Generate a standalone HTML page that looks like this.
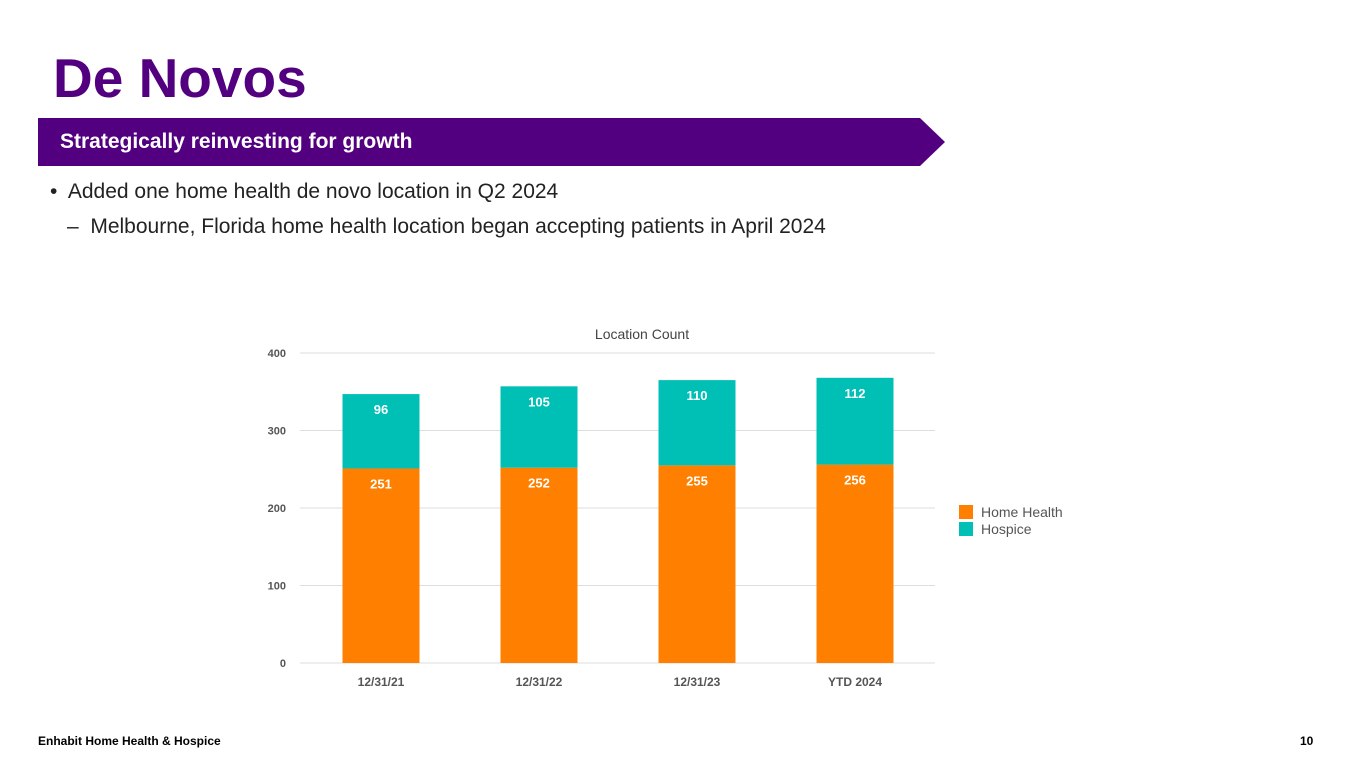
<!DOCTYPE html>
<html><head><meta charset="utf-8"><style>
body{margin:0;width:1365px;height:768px;background:#fff;position:relative;overflow:hidden;font-family:"Liberation Sans",Arial,sans-serif}
.abs{position:absolute}
</style></head><body>
<div class="abs" style="left:53px;top:46px;font-size:55px;font-weight:bold;color:#520080;line-height:64px">De Novos</div>
<svg class="abs" style="left:0;top:0" width="1365" height="768">
<polygon points="38,118 920,118 945,142 920,166 38,166" fill="#520080"/>
</svg>
<div class="abs" style="left:60px;top:130px;font-size:21px;font-weight:bold;color:#fff">Strategically reinvesting for growth</div>
<div class="abs" style="left:50px;top:180px;font-size:21px;color:#222">•&nbsp; Added one home health de novo location in Q2 2024</div>
<div class="abs" style="left:67px;top:215px;font-size:21px;color:#222">–&nbsp; Melbourne, Florida home health location began accepting patients in April 2024</div>
<svg class="abs" style="left:0;top:0" width="1365" height="768" id="chart"></svg>
<div class="abs" style="left:38px;top:734px;font-size:12px;font-weight:bold;color:#000">Enhabit Home Health &amp; Hospice</div>
<div class="abs" style="left:1300px;top:734px;font-size:12px;font-weight:bold;color:#000">10</div>
<script>
const categories=["12/31/21","12/31/22","12/31/23","YTD 2024"];
const homeHealth=[251,252,255,256];
const hospice=[96,105,110,112];
const yTicks=[0,100,200,300,400];
const NS="http://www.w3.org/2000/svg";
const svg=document.getElementById('chart');
const y=v=>663-v*310/400;
const x=i=>381+i*158;
function mk(t,a,txt){const e=document.createElementNS(NS,t);for(const k in a)e.setAttribute(k,a[k]);if(txt!=null)e.textContent=txt;svg.appendChild(e);return e;}
let t=mk('text',{x:642,y:339,'text-anchor':'middle','font-size':14,fill:'#444'},'Location Count');


yTicks.forEach(v=>{
 const l=mk('line',{x1:300,x2:935,y1:y(v),y2:y(v),stroke:'#ddd','stroke-width':1});
 
 
 const tx=mk('text',{x:286,y:y(v)+4,'text-anchor':'end','font-size':11,'font-weight':'bold',fill:'#555'},v);
 
 
});
categories.forEach((c,i)=>{
 const hh=homeHealth[i],hs=hospice[i];
 const b1=mk('rect',{x:x(i)-38.5,y:y(hh),width:77,height:y(0)-y(hh),fill:'#FF8000'});
 
 
 const b2=mk('rect',{x:x(i)-38.5,y:y(hh+hs),width:77,height:y(hh)-y(hh+hs),fill:'#00BFB5'});
 
 
 const l1=mk('text',{x:x(i),y:y(hh)+20,'text-anchor':'middle','font-size':13,'font-weight':'bold',fill:'#fff'},hh);
 
 
 const l2=mk('text',{x:x(i),y:y(hh+hs)+20,'text-anchor':'middle','font-size':13,'font-weight':'bold',fill:'#fff'},hs);
 
 
 const cl=mk('text',{x:x(i),y:686,'text-anchor':'middle','font-size':12,'font-weight':'bold',fill:'#555'},c);
 
 
});
[["Home Health","#FF8000"],["Hospice","#00BFB5"]].forEach((d,i)=>{
 const r=mk('rect',{x:959,y:505+i*17,width:14,height:14,fill:d[1]});
 
 
 const tx=mk('text',{x:981,y:517+i*17,'font-size':14,fill:'#555'},d[0]);
 
 
});
</script>
</body></html>
